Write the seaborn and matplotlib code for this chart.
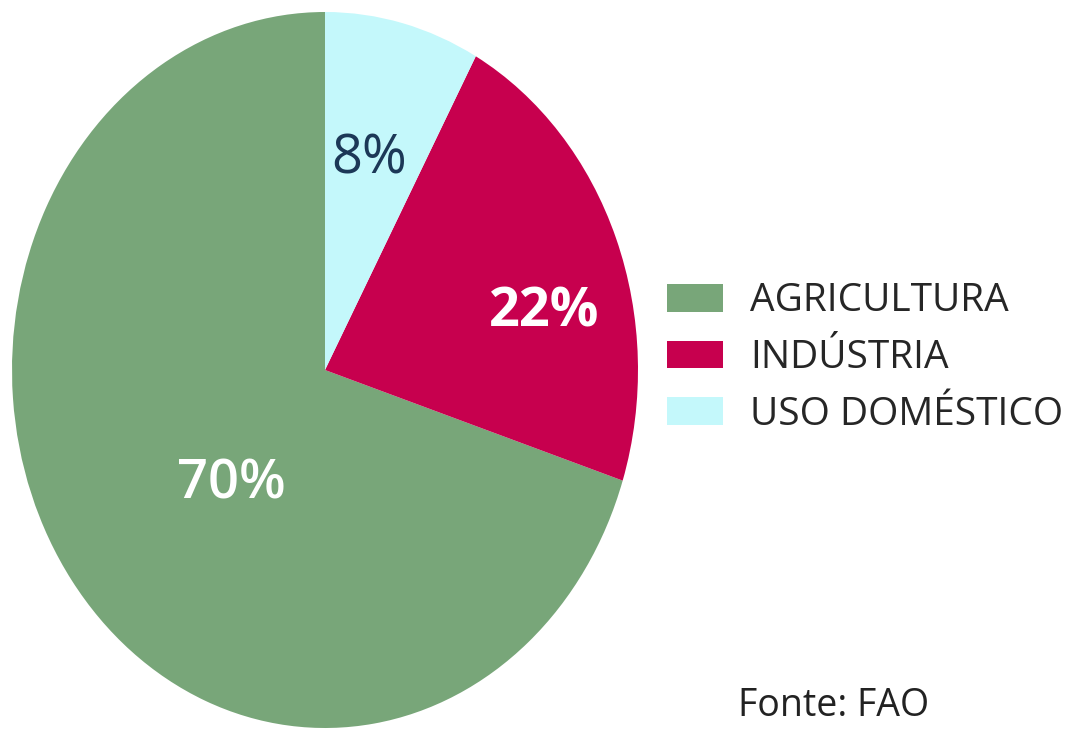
import numpy as np
import matplotlib
matplotlib.use("Agg")
import matplotlib.pyplot as plt
import seaborn as sns

# data
categories = ["AGRICULTURA", "INDÚSTRIA", "USO DOMÉSTICO"]
shares = [70, 22, 8]
colors = ["#78A679", "#C7004E", "#C4F8FB"]
label_colors = ["white", "white", "#1C3857"]
source = "Fonte: FAO"

sns.set_theme(style="white")
plt.rcParams["font.family"] = ["Open Sans", "DejaVu Sans"]

W, H = 1087, 731
fig = plt.figure(figsize=(W / 100, H / 100), dpi=100)
ax = fig.add_axes([0, 0, 1, 1])

# pie centre and radii in pixels (the reference pie is an ellipse)
cx, cy = 325, 370
rx, ry = 313, 358

wedges, texts, autotexts = ax.pie(
    shares,
    colors=sns.color_palette(colors),
    startangle=90,
    counterclock=True,
    autopct="%d%%",
    radius=1,
    wedgeprops=dict(linewidth=0),
    textprops=dict(fontsize=39),
)

# move the percentage labels to where they sit in the reference
label_pos = [(-0.30, -0.32), (0.70, 0.16), (0.14, 0.59)]
for t, c, p, w in zip(autotexts, label_colors, label_pos, ["semibold", "bold", "normal"]):
    t.set_color(c)
    t.set_position(p)
    t.set_fontweight(w)

ax.set_aspect("auto")
ax.set_xlim(-cx / rx, (W - cx) / rx)
ax.set_ylim(-(H - cy) / ry, cy / ry)
ax.axis("off")

fig.legend(
    wedges,
    categories,
    loc="center left",
    bbox_to_anchor=(667 / W, 1 - 358 / H),
    frameon=False,
    fontsize=28,
    handlelength=1.45,
    handleheight=0.72,
    handletextpad=0.68,
    labelspacing=0.48,
    borderpad=0,
    borderaxespad=0,
)

fig.text(738 / W, 1 - 706 / H, source, fontsize=27, va="center", ha="left", color="#222222")

fig.savefig("out.png", dpi=100, facecolor="white")
